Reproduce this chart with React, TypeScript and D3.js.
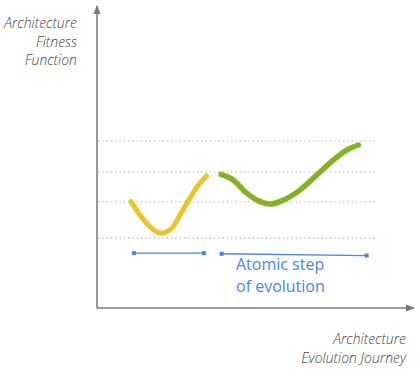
import React from 'react';
import * as d3 from 'd3';

// chart data, in 0-100 "journey" units on both axes
const yellowX = [10.7, 13.5, 16.7, 20.3, 23.5, 26.1, 29.2, 31.9, 34.5];
const yellowY = [35.1, 30.7, 26.8, 24.7, 26.3, 30.7, 36.2, 40.6, 43.6];

const greenX = [39.0, 42.9, 47.1, 51.3, 54.4, 58.6, 63.8, 69.1, 74.3, 78.5, 82.2];
const greenY = [44.1, 42.2, 37.9, 35.1, 34.3, 35.6, 38.9, 43.9, 48.8, 52.1, 53.8];

const gridLevels = [55.1, 44.9, 35.0, 23.1];
const gridExtent = [0.3, 88];

// atomic step brackets
const stepStart = [11.6, 39.2];
const stepEnd = [33.6, 84.8];
const stepStartY = [18.1, 17.9];
const stepEndY = [18.1, 17.3];

const stepLabel = ['Atomic step', 'of evolution'];
const yLabel = ['Architecture', 'Fitness', 'Function'];
const xLabel = ['Architecture', 'Evolution Journey'];

const W = 420;
const H = 370;

export default function App() {
  const x = d3.scaleLinear().domain([0, 100]).range([97, 415]);
  const y = d3.scaleLinear().domain([0, 100]).range([308, 5]);

  const line = d3.line<[number, number]>()
    .x(d => x(d[0]))
    .y(d => y(d[1]))
    .curve(d3.curveMonotoneX);

  const yellow = yellowX.map((v, i) => [v, yellowY[i]] as [number, number]);
  const green = greenX.map((v, i) => [v, greenY[i]] as [number, number]);

  const blue = '#4a86e8';
  const font = "'Open Sans', sans-serif";

  return (
    <svg width={W} height={H} style={{ position: 'absolute', left: 0, top: 0 }}>
      <defs>
        <filter id="soft" x="-10%" y="-10%" width="120%" height="120%">
          <feGaussianBlur stdDeviation="0.6" />
        </filter>
        <marker id="arrow" viewBox="0 0 10 10" refX="9" refY="5"
          markerWidth="6" markerHeight="6" orient="auto-start-reverse">
          <path d="M0,1 L10,5 L0,9 z" fill="#777" />
        </marker>
      </defs>

      {/* dotted grid */}
      {gridLevels.map((g, i) => (
        <line key={i} x1={x(gridExtent[0])} x2={x(gridExtent[1])} y1={y(g)} y2={y(g)}
          stroke="#bbb" strokeWidth={1.3} strokeDasharray="1.3,3" />
      ))}

      {/* axes */}
      <line x1={x(0)} y1={y(0)} x2={x(0)} y2={y(100) + 1} stroke="#777" strokeWidth={1.5}
        markerEnd="url(#arrow)" />
      <line x1={x(0)} y1={y(0)} x2={x(100) - 1} y2={y(0)} stroke="#777" strokeWidth={1.5}
        markerEnd="url(#arrow)" />

      {/* fitness curves */}
      <path d={line(yellow) || ''} fill="none" stroke="#ecc32c" strokeWidth={5}
        strokeLinecap="round" filter="url(#soft)" />
      <path d={line(green) || ''} fill="none" stroke="#86b126" strokeWidth={5.5}
        strokeLinecap="round" filter="url(#soft)" />

      {/* atomic step brackets */}
      {stepStart.map((s, i) => (
        <g key={i}>
          <line x1={x(s)} y1={y(stepStartY[i])} x2={x(stepEnd[i])} y2={y(stepEndY[i])}
            stroke={blue} strokeWidth={1.3} />
          <rect x={x(s) - 2} y={y(stepStartY[i]) - 2} width={4} height={4} fill={blue} />
          <rect x={x(stepEnd[i]) - 2} y={y(stepEndY[i]) - 2} width={4} height={4} fill={blue} />
        </g>
      ))}

      <text x={236} y={270} fill={blue} fontFamily={font} fontSize={16}>
        {stepLabel.map((t, i) => (
          <tspan key={i} x={236} dy={i === 0 ? 0 : 21.7}>{t}</tspan>
        ))}
      </text>

      {/* axis titles */}
      <text x={77} y={28} textAnchor="end" fill="#444" fontFamily={font} fontSize={14}
        fontStyle="italic" fontWeight={300}>
        {yLabel.map((t, i) => (
          <tspan key={i} x={77} dy={i === 0 ? 0 : 18.5}>{t}</tspan>
        ))}
      </text>
      <text x={406} y={344} textAnchor="end" fill="#444" fontFamily={font} fontSize={14}
        fontStyle="italic" fontWeight={300}>
        {xLabel.map((t, i) => (
          <tspan key={i} x={406} dy={i === 0 ? 0 : 18.5}>{t}</tspan>
        ))}
      </text>
    </svg>
  );
}
